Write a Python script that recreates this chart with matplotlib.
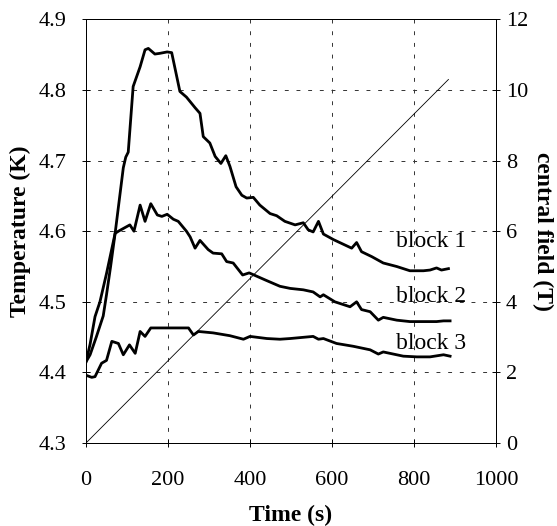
import numpy as np
import matplotlib.pyplot as plt

plt.rcParams["font.family"] = "Liberation Serif"

# block temperatures
t1 = [0, 10, 22, 34, 50, 71, 91, 97, 103, 115, 132, 144, 152, 168, 180, 198, 209,
      229, 245, 266, 278, 286, 302, 315, 329, 341, 351, 366, 380, 392, 408, 424, 449, 465, 485,
      510, 530, 542, 554, 567, 579, 604, 648, 660, 672, 697, 725, 758, 790, 823, 839, 855, 867, 884]
T1 = [4.415, 4.44, 4.479, 4.50, 4.54, 4.597, 4.69, 4.705, 4.712, 4.805, 4.833,
      4.857, 4.859, 4.851, 4.852, 4.854, 4.853, 4.798, 4.79, 4.775, 4.767, 4.734, 4.725, 4.706,
      4.696, 4.707, 4.692, 4.663, 4.651, 4.647, 4.648, 4.637, 4.625, 4.622, 4.614, 4.609, 4.612,
      4.602, 4.599, 4.614, 4.596, 4.588, 4.576, 4.584, 4.571, 4.564, 4.555, 4.55, 4.544, 4.544,
      4.545, 4.548, 4.545, 4.547]

t2 = [0, 10, 25, 42, 50, 60, 71, 79, 107, 117, 132, 144, 158, 174, 185, 198, 213, 225, 245, 254,
      266, 278, 298, 310, 331, 343, 359, 382, 398, 437, 473, 498, 530, 554, 571, 579, 607, 644,
      660, 672, 693, 713, 725, 758, 790, 823, 855, 872, 888]
T2 = [4.415, 4.425, 4.45, 4.48, 4.51, 4.55, 4.597, 4.60, 4.609, 4.60, 4.637, 4.614, 4.639, 4.623,
      4.621, 4.624, 4.617, 4.614, 4.60, 4.592, 4.576, 4.587, 4.574, 4.569, 4.568, 4.557, 4.555,
      4.538, 4.541, 4.531, 4.522, 4.519, 4.517, 4.514, 4.507, 4.51, 4.50, 4.493, 4.50, 4.489,
      4.486, 4.474, 4.478, 4.474, 4.472, 4.472, 4.472, 4.473, 4.473]

t3 = [0, 14, 22, 38, 50, 63, 79, 91, 106, 120, 132, 144, 158, 189, 250, 262, 274, 310, 351, 384,
      400, 441, 473, 498, 554, 567, 579, 611, 652, 693, 713, 725, 774, 807, 839, 872, 888]
T3 = [4.396, 4.393, 4.394, 4.413, 4.417, 4.444, 4.441, 4.425, 4.439, 4.427, 4.458, 4.451, 4.463,
      4.463, 4.463, 4.453, 4.458, 4.456, 4.452, 4.447, 4.451, 4.448, 4.447, 4.448, 4.451, 4.447,
      4.448, 4.441, 4.437, 4.432, 4.426, 4.429, 4.423, 4.422, 4.422, 4.425, 4.423]

# central field ramp
t_field = [0, 884]
B_field = [0, 10.3]

fig = plt.figure(figsize=(5.57, 5.26), dpi=100)
ax = fig.add_axes([0.1544, 0.1578, 0.7361, 0.8052])
ax2 = ax.twinx()

ax.plot(t1, T1, color='black', linewidth=2.0)
ax.plot(t2, T2, color='black', linewidth=2.0)
ax.plot(t3, T3, color='black', linewidth=2.0)
ax2.plot(t_field, B_field, color='black', linewidth=0.6)

ax.text(756, 4.585, "block 1", fontsize=17, va='center')
ax.text(756, 4.508, "block 2", fontsize=17, va='center')
ax.text(756, 4.441, "block 3", fontsize=17, va='center')

ax.set_xlim(0, 1000)
ax.set_ylim(4.3, 4.9)
ax2.set_ylim(0, 12)
ax.set_xticks(np.arange(0, 1001, 200))
ax.set_yticks(np.arange(4.3, 4.91, 0.1))
ax.set_yticklabels(["4.3", "4.4", "4.5", "4.6", "4.7", "4.8", "4.9"])
ax2.set_yticks(np.arange(0, 13, 2))

ax.grid(True, color='#333333', linestyle=(0, (4, 8)), linewidth=0.7)
ax.tick_params(direction='inout', length=6, width=0.7, labelsize=16)
ax.tick_params(axis='x', pad=17)
ax.tick_params(axis='y', pad=11)
ax2.tick_params(direction='inout', length=6, width=0.7, labelsize=16, pad=4)
for a in (ax, ax2):
    for s in a.spines.values():
        s.set_linewidth(0.7)

ax.set_xlabel("Time (s)", fontsize=17, fontweight='bold')
ax.xaxis.set_label_coords(0.5, -0.145)
ax.set_ylabel("Temperature (K)", fontsize=17, fontweight='bold')
ax.yaxis.set_label_coords(-0.135, 0.5)
ax2.set_ylabel("central field (T)", fontsize=17, fontweight='bold', rotation=270, labelpad=18)

fig.savefig('out.png', dpi=100)
